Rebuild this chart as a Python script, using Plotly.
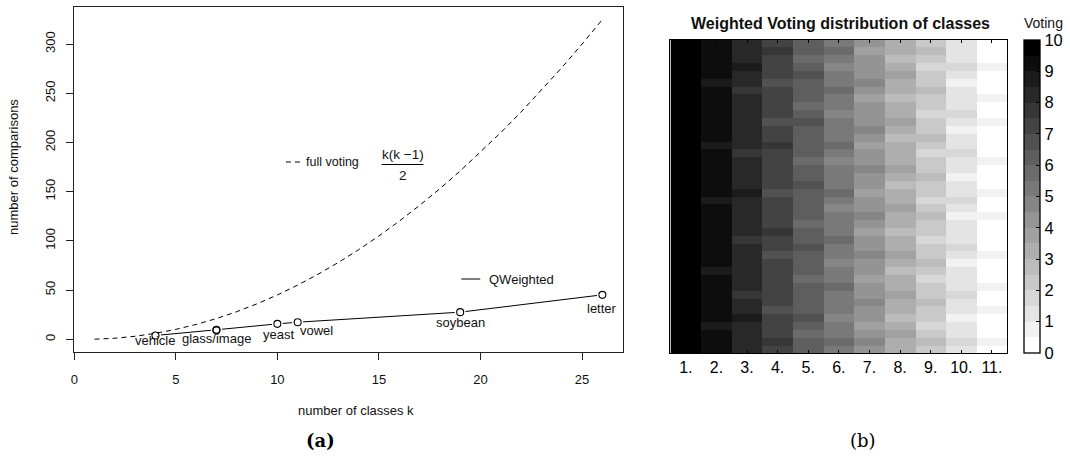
import plotly.graph_objects as go

W, H = 1070, 459

# ---------------- (a) data ----------------
k_classes = [1, 2, 3, 4, 5, 6, 7, 8, 9, 10, 11, 12, 13, 14, 15, 16, 17, 18, 19, 20, 21, 22, 23, 24, 25, 26]
full_voting = [0, 1, 3, 6, 10, 15, 21, 28, 36, 45, 55, 66, 78, 91, 105, 120, 136, 153, 171, 190,
               210, 231, 253, 276, 300, 325]

qw_k = [4, 7, 7, 10, 11, 19, 26]
qw_comparisons = [3.8, 9.0, 9.6, 15.6, 17.3, 27.5, 45.1]
qw_labels = ["vehicle", "glass/image", "", "yeast", "vowel", "soybean", "letter"]

x_ticks = [0, 5, 10, 15, 20, 25]
y_ticks = [0, 50, 100, 150, 200, 250, 300]

# ---------------- (b) data ----------------
class_labels = ["1.", "2.", "3.", "4.", "5.", "6.", "7.", "8.", "9.", "10.", "11."]
class1 = [9.8, 9.8, 9.7, 9.8, 9.9, 9.8, 9.8, 9.7, 9.8, 9.8, 9.8, 9.9, 9.8, 9.8, 9.7, 9.8, 9.8, 9.8, 9.6, 9.8,
          9.8, 9.8, 9.7, 9.8, 9.8, 9.9, 9.8, 9.8, 9.8, 9.7, 9.8, 9.8, 9.8, 9.6, 9.8, 9.8, 9.9, 9.8, 9.8, 9.8]
class2 = [9.2, 9.1, 9.2, 8.9, 9.2, 9.2, 9.3, 9.1, 9.2, 9.2, 8.8, 9.2, 9.1, 9.2, 9.2, 9.3, 9.2, 9.1, 9.2, 8.9,
          9.2, 9.2, 9.1, 9.2, 9.3, 9.2, 8.8, 9.2, 9.1, 9.2, 9.2, 9.2, 9.1, 9.2, 8.9, 9.2, 9.2, 9.1, 9.2, 9.2]
class3 = [8.2, 8.3, 8.1, 8.2, 8.6, 8.2, 8.2, 7.9, 8.2, 8.3, 8.2, 8.1, 8.2, 8.2, 7.8, 8.2, 8.3, 8.2, 8.2, 8.1,
          8.6, 8.2, 8.2, 8.3, 8.2, 7.9, 8.2, 8.2, 8.1, 8.2, 8.3, 8.2, 8.2, 7.8, 8.2, 8.2, 8.6, 8.2, 8.1, 8.2]
class4 = [7.2, 7.6, 7.2, 7.1, 7.2, 6.8, 7.2, 7.3, 7.2, 7.2, 7.1, 7.2, 6.9, 7.2, 7.2, 7.6, 7.2, 7.3, 7.2, 7.2,
          6.8, 7.2, 7.2, 7.1, 7.2, 7.2, 7.6, 7.2, 7.2, 6.9, 7.2, 7.3, 7.2, 7.2, 6.8, 7.2, 7.1, 7.2, 7.6, 7.2]
class5 = [6.2, 6.2, 5.8, 6.2, 6.6, 6.2, 6.1, 6.2, 6.2, 5.9, 6.2, 6.3, 6.2, 6.6, 6.2, 6.2, 5.8, 6.2, 6.2, 6.1,
          6.2, 6.6, 6.2, 6.2, 5.8, 6.2, 6.3, 6.2, 6.2, 6.6, 6.2, 5.9, 6.2, 6.2, 6.2, 6.6, 6.2, 5.8, 6.2, 6.2]
class6 = [5.2, 5.6, 5.2, 5.2, 4.8, 5.2, 5.3, 5.2, 5.6, 5.2, 5.2, 4.9, 5.2, 5.2, 5.6, 5.2, 5.1, 5.2, 4.8, 5.2,
          5.6, 5.2, 5.2, 5.2, 4.8, 5.2, 5.6, 5.2, 5.3, 5.2, 4.9, 5.2, 5.2, 5.6, 5.2, 5.2, 4.8, 5.2, 5.6, 5.2]
class7 = [4.2, 4.6, 4.2, 3.8, 4.2, 4.2, 4.6, 4.2, 4.1, 3.8, 4.2, 4.2, 4.6, 4.2, 4.2, 3.9, 4.2, 4.6, 4.2, 4.2,
          3.8, 4.2, 4.2, 4.6, 4.2, 4.2, 3.8, 4.2, 4.6, 4.2, 4.2, 4.1, 3.8, 4.2, 4.6, 4.2, 4.2, 4.2, 3.8, 4.2]
class8 = [3.2, 3.2, 3.6, 3.2, 2.8, 3.2, 3.2, 3.6, 3.2, 3.2, 2.9, 3.2, 3.6, 3.2, 3.2, 2.8, 3.2, 3.2, 3.6, 3.2,
          3.2, 2.8, 3.2, 3.6, 3.2, 3.2, 3.2, 2.8, 3.2, 3.6, 3.2, 3.2, 2.8, 3.2, 3.2, 3.6, 3.2, 2.9, 3.2, 3.2]
class9 = [2.2, 2.6, 2.2, 1.8, 2.2, 2.2, 2.6, 2.2, 2.2, 1.8, 2.2, 2.6, 2.2, 2.2, 1.8, 2.2, 2.2, 2.6, 2.2, 1.9,
          2.2, 2.2, 2.6, 2.2, 2.2, 1.8, 2.2, 2.6, 2.2, 2.2, 1.8, 2.2, 2.2, 2.6, 2.2, 2.2, 1.8, 2.2, 2.6, 2.2]
class10 = [1.2, 1.6, 1.2, 1.2, 0.8, 1.2, 1.2, 1.6, 1.2, 1.2, 1.2, 0.8, 1.2, 1.6, 1.2, 1.2, 1.2, 0.8, 1.2, 1.6,
           1.2, 1.2, 0.8, 1.2, 1.2, 1.6, 1.2, 1.2, 0.8, 1.2, 1.6, 1.2, 1.2, 1.2, 0.8, 1.2, 1.6, 1.2, 1.2, 1.2]
class11 = [0.2, 0.7, 0.2, 0.2, 0.2, 0.7, 0.2, 0.2, 0.7, 0.2, 0.2, 0.2, 0.7, 0.2, 0.2, 0.2, 0.2, 0.7, 0.2, 0.2,
           0.7, 0.2, 0.2, 0.2, 0.7, 0.2, 0.2, 0.2, 0.2, 0.7, 0.2, 0.2, 0.7, 0.2, 0.2, 0.2, 0.7, 0.2, 0.2, 0.2]
colorbar_ticks = [0, 1, 2, 3, 4, 5, 6, 7, 8, 9, 10]

columns = [class1, class2, class3, class4, class5, class6, class7, class8, class9, class10, class11]
z = [list(row) for row in zip(*columns)]
row_index = list(range(len(class1)))


def px(x):
    return x / W


def py(y):
    return 1 - y / H


SANS = "Liberation Sans, Arial, sans-serif"
fig = go.Figure()

# ---- (a) traces ----
fig.add_trace(go.Scatter(x=qw_k, y=qw_comparisons, mode="lines",
                         line=dict(color="black", width=1), showlegend=False,
                         xaxis="x", yaxis="y", hoverinfo="skip"))
fig.add_trace(go.Scatter(x=qw_k, y=qw_comparisons, mode="markers",
                         marker=dict(symbol="circle", size=11, color="white", line=dict(width=0)),
                         showlegend=False, xaxis="x", yaxis="y", hoverinfo="skip"))
fig.add_trace(go.Scatter(x=k_classes, y=full_voting, mode="lines",
                         line=dict(color="black", width=1, dash="5px,4px"), showlegend=False,
                         xaxis="x", yaxis="y"))
fig.add_trace(go.Scatter(x=qw_k, y=qw_comparisons, mode="markers",
                         marker=dict(symbol="circle-open", size=7, color="black", line=dict(width=1.1)),
                         showlegend=False, xaxis="x", yaxis="y"))

# ---- (b) heatmap ----
levels = 20
cs = []
for i in range(levels):
    g = round(255 * (levels - 1 - i) / (levels - 1))
    c = f"rgb({g},{g},{g})"
    cs.append([i / levels, c])
    cs.append([(i + 1) / levels, c])

fig.add_trace(go.Heatmap(
    z=z, x=class_labels, y=row_index, xaxis="x2", yaxis="y2",
    zmin=0, zmax=10, colorscale=cs, zsmooth=False,
    colorbar=dict(
        tickvals=colorbar_ticks, ticktext=[str(v) for v in colorbar_ticks],
        ticks="inside", ticklen=4, tickcolor="black", tickwidth=1,
        tickfont=dict(family=SANS, size=16.5, color="black"),
        outlinewidth=1.3, outlinecolor="black",
        thickness=16, thicknessmode="pixels", len=313, lenmode="pixels",
        x=px(1024), xanchor="left", y=py(40), yanchor="top", xpad=0, ypad=0,
    ),
))

annotations = []
# point labels
label_offsets = {
    "vehicle": (0, -5), "glass/image": (0, -8.5), "yeast": (1, -10.5),
    "vowel": (19, -8), "soybean": (0, -10.5), "letter": (0, -14),
}
for kx, vy, lab in zip(qw_k, qw_comparisons, qw_labels):
    if not lab:
        continue
    dx, dy = label_offsets[lab]
    annotations.append(dict(x=kx, y=vy, xref="x", yref="y", text=lab, showarrow=False,
                            xshift=dx, yshift=dy, xanchor="center", yanchor="middle",
                            font=dict(family=SANS, size=13, color="#111")))

# axis titles (a)
annotations.append(dict(x=px(9), y=py(167), xref="paper", yref="paper", text="number of comparisons",
                        textangle=-90, showarrow=False, xanchor="center", yanchor="middle",
                        font=dict(family=SANS, size=13, color="#111")))
annotations.append(dict(x=px(353), y=py(410), xref="paper", yref="paper", text="number of classes k",
                        showarrow=False, xanchor="center", yanchor="middle",
                        font=dict(family=SANS, size=13, color="#111")))
# legend texts
annotations.append(dict(x=px(301), y=py(162), xref="paper", yref="paper", text="full voting",
                        showarrow=False, xanchor="left", yanchor="middle",
                        font=dict(family=SANS, size=12.5, color="#111")))
annotations.append(dict(x=px(400), y=py(154), xref="paper", yref="paper", text="k(k \u22121)",
                        showarrow=False, xanchor="center", yanchor="middle",
                        font=dict(family=SANS, size=13.5, color="#111")))
annotations.append(dict(x=px(400), y=py(175), xref="paper", yref="paper", text="2",
                        showarrow=False, xanchor="center", yanchor="middle",
                        font=dict(family=SANS, size=13.5, color="#111")))
annotations.append(dict(x=px(485), y=py(279), xref="paper", yref="paper", text="QWeighted",
                        showarrow=False, xanchor="left", yanchor="middle",
                        font=dict(family=SANS, size=13, color="#111")))
# (b) title / colorbar title
annotations.append(dict(x=px(840), y=py(23), xref="paper", yref="paper",
                        text="<b>Weighted Voting distribution of classes</b>",
                        showarrow=False, xanchor="center", yanchor="middle",
                        font=dict(family=SANS, size=16, color="#111")))
annotations.append(dict(x=px(1043), y=py(23), xref="paper", yref="paper", text="Voting",
                        showarrow=False, xanchor="center", yanchor="middle",
                        font=dict(family=SANS, size=14, color="#111")))
# captions
annotations.append(dict(x=px(318), y=py(440), xref="paper", yref="paper", text="<b>(a)</b>",
                        showarrow=False, xanchor="center", yanchor="middle",
                        font=dict(family="DejaVu Serif, serif", size=18, color="black")))
annotations.append(dict(x=px(862), y=py(440), xref="paper", yref="paper", text="(b)",
                        showarrow=False, xanchor="center", yanchor="middle",
                        font=dict(family="DejaVu Serif, serif", size=18, color="black")))

shapes = [
    dict(type="line", xref="paper", yref="paper", x0=px(283), x1=px(299), y0=py(162), y1=py(162),
         line=dict(color="black", width=1, dash="5px,4px")),
    dict(type="line", xref="paper", yref="paper", x0=px(379), x1=px(421), y0=py(164.5), y1=py(164.5),
         line=dict(color="black", width=1)),
    dict(type="line", xref="paper", yref="paper", x0=px(459), x1=px(478), y0=py(279), y1=py(279),
         line=dict(color="black", width=1)),
]

axis_font = dict(family=SANS, size=13, color="#111")
fig.update_layout(
    width=W, height=H, margin=dict(l=0, r=0, t=0, b=0),
    paper_bgcolor="white", plot_bgcolor="white", showlegend=False,
    annotations=annotations, shapes=shapes,
    xaxis=dict(domain=[px(70.5), px(621)], range=[0, 27], tickvals=x_ticks,
               ticks="outside", ticklen=7, tickcolor="#222", showline=True, mirror=True,
               linecolor="#222", linewidth=1, showgrid=False, zeroline=False,
               tickfont=axis_font, ticklabelstandoff=8, anchor="y"),
    yaxis=dict(domain=[py(352), py(6.7)], range=[-13, 338], tickvals=y_ticks,
               ticks="outside", ticklen=7, tickcolor="#222", showline=True, mirror=True,
               linecolor="#222", linewidth=1, showgrid=False, zeroline=False,
               tickangle=-90, tickfont=axis_font, ticklabelstandoff=6, anchor="x"),
    xaxis2=dict(domain=[px(669), px(1007)], type="category", ticks="inside", ticklen=3,
                tickcolor="black", showline=True, mirror="ticks", linecolor="black", linewidth=1.3,
                showgrid=False, zeroline=False, tickfont=dict(family=SANS, size=16, color="black"),
                anchor="y2"),
    yaxis2=dict(domain=[py(353), py(39.5)], showticklabels=False, ticks="", showline=True,
                mirror=True, linecolor="black", linewidth=1.3, showgrid=False, zeroline=False,
                range=[-0.5, len(class1) - 0.5], anchor="x2"),
)

fig.write_html("out.html")
